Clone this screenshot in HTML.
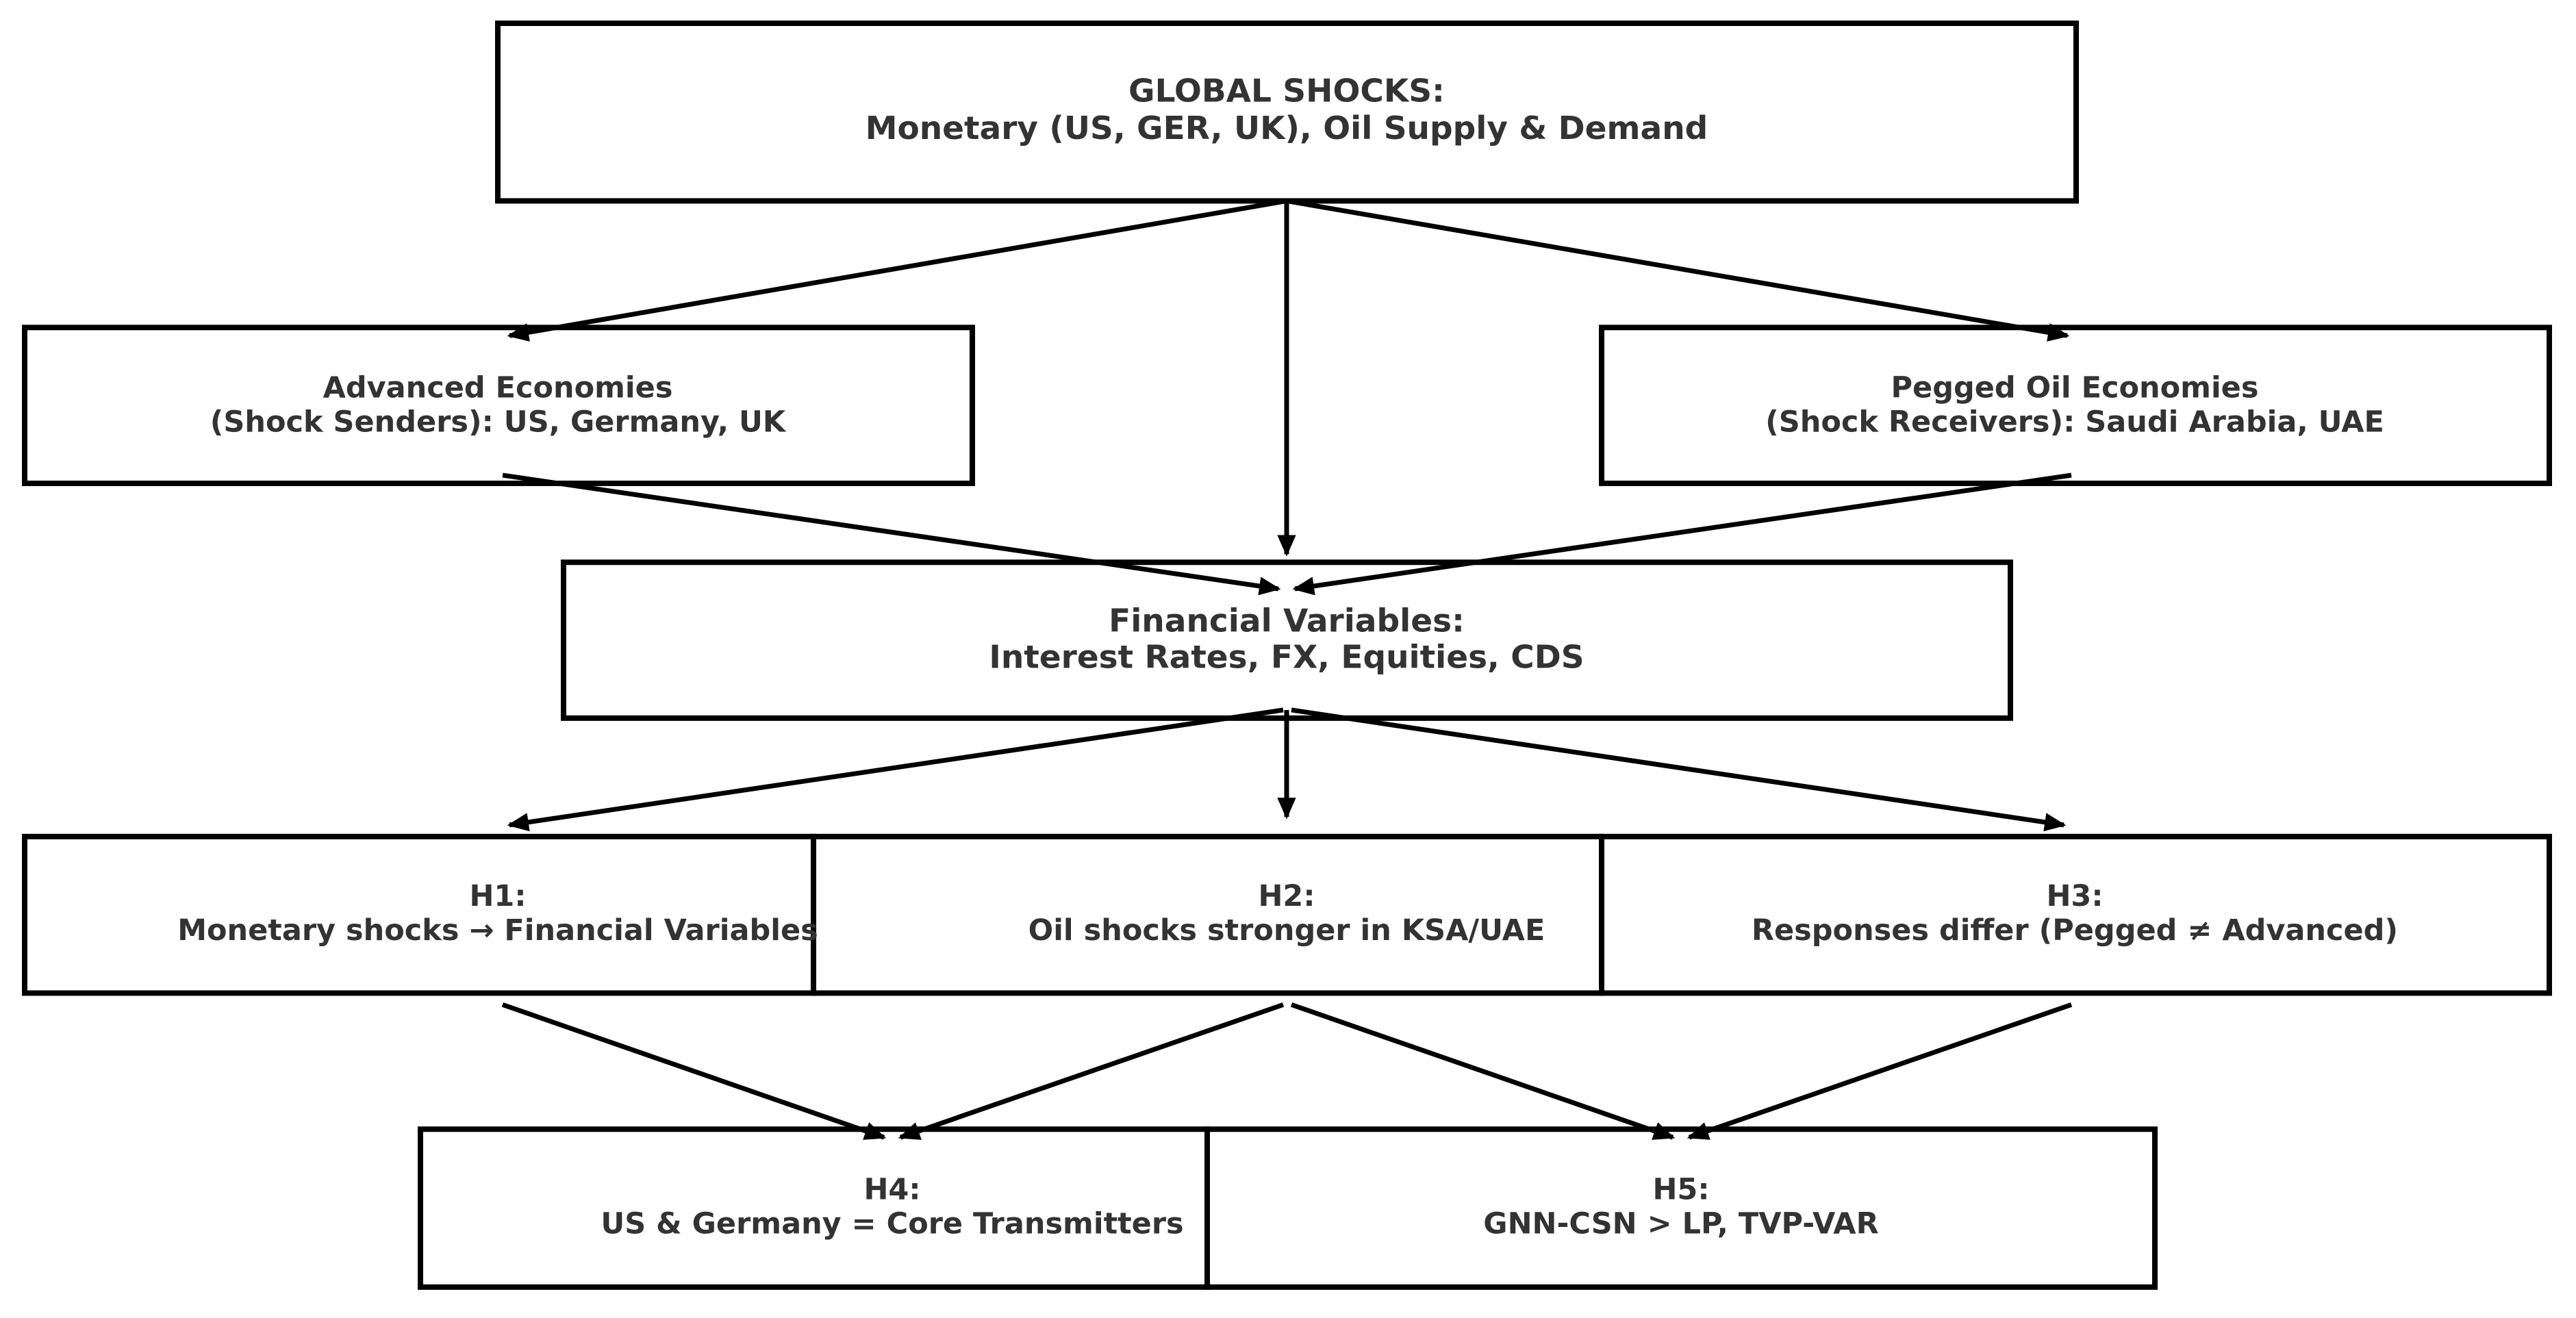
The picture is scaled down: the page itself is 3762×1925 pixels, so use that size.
<!DOCTYPE html>
<html><head><meta charset="utf-8"><style>
html,body{margin:0;padding:0;background:#fff;}
svg{display:block;}
text{font-family:"DejaVu Sans","Liberation Sans",sans-serif;font-weight:bold;fill:#333;text-anchor:middle;}
</style></head><body>
<svg width="3762" height="1925" viewBox="0 0 3762 1925" xmlns="http://www.w3.org/2000/svg">
<defs>
<marker id="a" markerWidth="4.5" markerHeight="4.5" refX="4" refY="2.25" orient="auto" markerUnits="strokeWidth">
<path d="M0,0.3 L4.5,2.25 L0,4.2 Z" fill="#000"/>
</marker>
</defs>
<g transform="translate(0,34) scale(1,0.994) translate(0,-34)">
<g fill="none" stroke="#000" stroke-width="8">
<rect x="727" y="34" width="2305" height="261"/>
<rect x="36" y="481" width="1384" height="229"/>
<rect x="2339" y="481" width="1384" height="229"/>
<rect x="823" y="826" width="2113" height="229"/>
<rect x="36" y="1229" width="1152" height="230"/>
<rect x="1188" y="1229" width="1151" height="230"/>
<rect x="2339" y="1229" width="1384" height="230"/>
<rect x="614" y="1659" width="1149" height="232"/>
<rect x="1763" y="1659" width="1384" height="232"/>
</g>
<g stroke="#000" stroke-width="7" fill="none" marker-end="url(#a)">
<line x1="1879" y1="295" x2="744" y2="493"/>
<line x1="1879" y1="295" x2="1879" y2="814"/>
<line x1="1879" y1="295" x2="3019" y2="493"/>
<line x1="734" y1="698" x2="1867" y2="865"/>
<line x1="3025" y1="698" x2="1891" y2="865"/>
<line x1="1874" y1="1043" x2="744" y2="1212"/>
<line x1="1879" y1="1043" x2="1879" y2="1200"/>
<line x1="1886" y1="1043" x2="3014" y2="1212"/>
<line x1="734" y1="1476" x2="1291" y2="1671"/>
<line x1="1874" y1="1476" x2="1315" y2="1671"/>
<line x1="1886" y1="1476" x2="2443" y2="1671"/>
<line x1="3025" y1="1476" x2="2467" y2="1671"/>
</g>
<text x="1879" y="149" font-size="47">GLOBAL SHOCKS:</text>
<text x="1879" y="204" font-size="47">Monetary (US, GER, UK), Oil Supply &amp; Demand</text>
<text x="727" y="584" font-size="43">Advanced Economies</text>
<text x="727" y="634" font-size="43">(Shock Senders): US, Germany, UK</text>
<text x="3030" y="584" font-size="43">Pegged Oil Economies</text>
<text x="3030" y="634" font-size="43">(Shock Receivers): Saudi Arabia, UAE</text>
<text x="1879" y="928" font-size="47">Financial Variables:</text>
<text x="1879" y="981" font-size="47">Interest Rates, FX, Equities, CDS</text>
<text x="727" y="1331" font-size="43">H1:</text>
<text x="727" y="1381" font-size="43">Monetary shocks → Financial Variables</text>
<text x="1879" y="1331" font-size="43">H2:</text>
<text x="1879" y="1381" font-size="43">Oil shocks stronger in KSA/UAE</text>
<text x="3030" y="1331" font-size="43">H3:</text>
<text x="3030" y="1381" font-size="43">Responses differ (Pegged ≠ Advanced)</text>
<text x="1303" y="1762" font-size="43">H4:</text>
<text x="1303" y="1812" font-size="43">US &amp; Germany = Core Transmitters</text>
<text x="2455" y="1762" font-size="43">H5:</text>
<text x="2455" y="1812" font-size="43">GNN-CSN &gt; LP, TVP-VAR</text>
</g>
</svg>
</body></html>
